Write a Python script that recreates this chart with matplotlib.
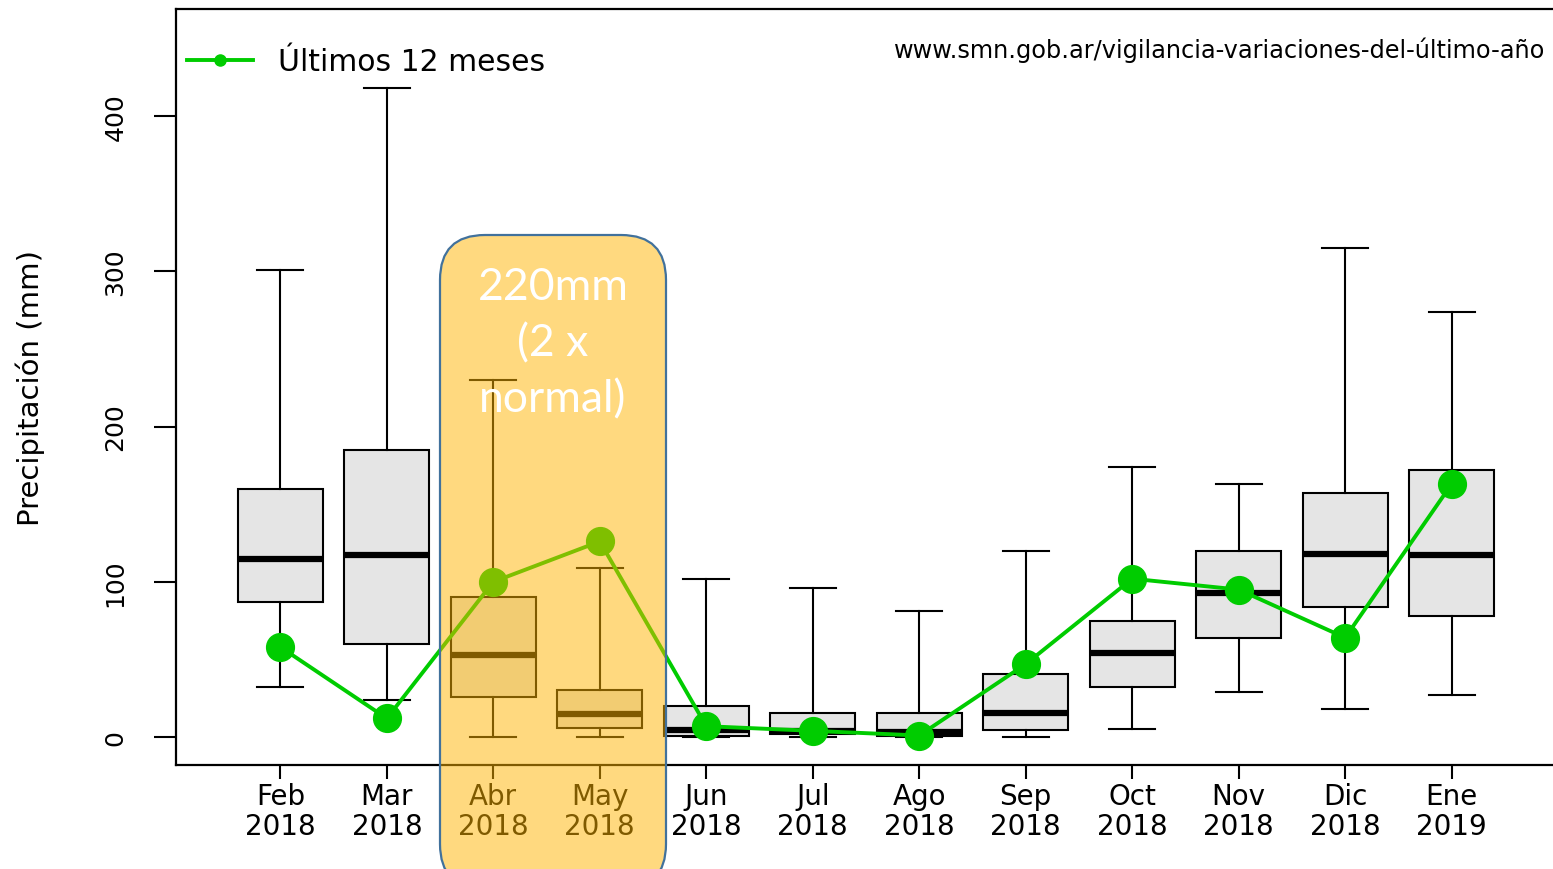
import numpy as np
import matplotlib
matplotlib.use("Agg")
from matplotlib import pyplot as plt
from matplotlib.patches import FancyBboxPatch
from matplotlib.lines import Line2D
from matplotlib.transforms import IdentityTransform

### data ###
months = ['Feb\n2018', 'Mar\n2018', 'Abr\n2018', 'May\n2018', 'Jun\n2018', 'Jul\n2018',
          'Ago\n2018', 'Sep\n2018', 'Oct\n2018', 'Nov\n2018', 'Dic\n2018', 'Ene\n2019']
whislo = [32, 24, 0, 0, 0, 0, 0, 0, 5, 29, 18, 27]
q1 = [87, 60, 26, 6, 0.5, 2, 0.5, 4.5, 32, 64, 84, 78]
med = [115, 117, 53, 15, 4.5, 4, 3, 15.5, 54, 93, 118, 117]
q3 = [160, 185, 90, 30, 20, 15.5, 15.5, 40.5, 75, 120, 157, 172]
whishi = [301, 418, 230, 109, 102, 96, 81, 120, 174, 163, 315, 274]
last12 = [58, 12, 100, 126, 7, 4, 1, 47, 102, 95, 64, 163]
yticks = [0, 100, 200, 300, 400]

W, H = 1553, 870
fig = plt.figure(figsize=(W / 100, H / 100), dpi=100)
ax = fig.add_axes([176 / W, 1 - 766 / H, 1380 / W, 756 / H])

stats = []
for i in range(len(months)):
    stats.append(dict(med=med[i], q1=q1[i], q3=q3[i], whislo=whislo[i], whishi=whishi[i], fliers=[]))

x = np.arange(1, len(months) + 1)
ax.bxp(stats, positions=x, widths=0.8, capwidths=0.43, patch_artist=True,
       boxprops=dict(facecolor='#e5e5e5', edgecolor='black', linewidth=1.5),
       medianprops=dict(color='black', linewidth=4.5, solid_capstyle='butt'),
       whiskerprops=dict(color='black', linewidth=1.5),
       capprops=dict(color='black', linewidth=1.5))

green = '#00cc00'
ax.plot(x, last12, color=green, linewidth=2.8, marker='o', markersize=20, zorder=5)

ax.set_xlim(0.02, 12.98)
ax.set_ylim(-18, 469)
ax.set_xticks(x)
ax.set_xticklabels(months, fontsize=20, linespacing=1.1)
ax.set_yticks(yticks)
ax.set_yticklabels([str(v) for v in yticks], fontsize=18, rotation=90, va='center')
ax.tick_params(axis='x', length=10, width=1.5, pad=2)
ax.tick_params(axis='y', length=16, width=1.5, pad=19)
for s in ['left', 'top', 'bottom']:
    ax.spines[s].set_linewidth(1.6)
ax.spines['right'].set_visible(False)

fig.text(30 / W, 1 - 388 / H, 'Precipitación (mm)', rotation=90, ha='center', va='center', fontsize=21)

h = Line2D([], [], color=green, linewidth=2.8, marker='o', markersize=8)
ax.legend([h], ['Últimos 12 meses'], loc='center left', bbox_to_anchor=(0.008, 0.930),
          frameon=False, fontsize=21.5, handlelength=2.2, handletextpad=0.85,
          borderpad=0, borderaxespad=0)

fig.text(1545 / W, 1 - 50 / H, 'www.smn.gob.ar/vigilancia-variaciones-del-último-año',
         ha='right', va='center', fontsize=17.3)

# highlighted box over Abr-May
hl = FancyBboxPatch((440, -20), 226, 870 - 236 + 20, boxstyle='round,pad=0,rounding_size=45',
                    transform=IdentityTransform(), facecolor='#ffb400', alpha=0.5,
                    edgecolor='none', zorder=10)
fig.add_artist(hl)
hl_edge = FancyBboxPatch((440, -20), 226, 870 - 236 + 20, boxstyle='round,pad=0,rounding_size=45',
                         transform=IdentityTransform(), facecolor='none',
                         edgecolor='#41719c', linewidth=1.6, zorder=11)
fig.add_artist(hl_edge)
fig.text(553 / W, 1 - 344 / H, '220mm\n(2 x\nnormal)', ha='center', va='center',
         color='white', fontsize=32, family='Lato', linespacing=1.45, zorder=12)

fig.savefig('out.png', dpi=100)
